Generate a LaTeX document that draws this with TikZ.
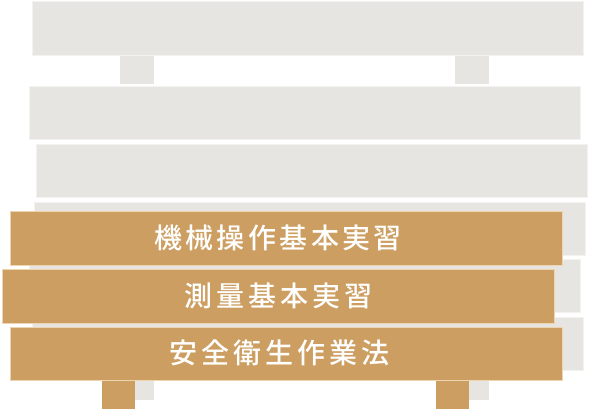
\documentclass[tikz,border=0pt]{standalone}
\usepackage{xcolor}
\usepackage{fontspec}
\usepackage{tikz}
\newfontfamily\jpfont{Noto Sans CJK JP Medium}[LetterSpace=14]
\definecolor{Stone}{HTML}{E6E5E1}
\definecolor{StoneEdge}{HTML}{F3F2EF}
\definecolor{Ochre}{HTML}{CD9E62}
\definecolor{OchreEdge}{HTML}{EDD5B2}
\tikzset{%
  % ------------------------------
  % grey boards, the empty shelves
  % ------------------------------
  greyBoard/.style={rectangle, draw=StoneEdge, fill=Stone, line width=.8pt, inner sep=0pt, minimum width=551pt, minimum height=53.5pt},
  greyLeg/.style={rectangle, fill=Stone, inner sep=0pt, minimum width=34pt, minimum height=29pt},
  % -----------------------------
  % gold boards, the three courses
  % -----------------------------
  goldBoard/.style={rectangle, draw=OchreEdge, fill=Ochre, line width=.8pt, inner sep=0pt, minimum width=552pt, minimum height=54pt},
  goldLeg/.style={rectangle, fill=Ochre, inner sep=0pt, minimum width=33pt, minimum height=30pt},
  boardLabel/.style={inner sep=0pt, text=white, font=\jpfont\fontsize{28}{30}\selectfont}}

\begin{document}
\begin{tikzpicture}[x=1pt,y=-1pt]
    \useasboundingbox (0,0) rectangle (590,408);

    \node[greyLeg] (legTopL) at (137,69.5) {};
    \node[greyLeg] (legTopR) at (471.5,69.5) {};
    \node[greyBoard] (shelfTop) at (307.5,28.5) {};
    \node[greyBoard] (shelfB) at (304.5,112.75) {};
    \node[greyBoard] (shelfC) at (312,170.75) {};

    \node[greyLeg] (legBotL) at (137,385.5) {};
    \node[greyLeg] (legBotR) at (471.5,385.5) {};
    \node[greyBoard] (shelfD) at (309.5,229) {};
    \node[greyBoard] (shelfE) at (304.5,286) {};
    \node[greyBoard] (shelfF) at (307.5,344) {};

    \node[goldLeg] (legL) at (118.5,395) {};
    \node[goldLeg] (legR) at (452.5,395) {};
    \node[goldBoard] (kikai) at (286,238) {};
    \node[goldBoard] (sokuryo) at (278,296) {};
    \node[goldBoard, minimum height=53pt] (anzen) at (286,353.5) {};

    \node[boardLabel] (kikaiText) at (278,237.5) {\addfontfeature{LetterSpace=12}機械操作基本実習};
    \node[boardLabel] (sokuryoText) at (278.5,295.5) {測量基本実習};
    \node[boardLabel] (anzenText) at (279.5,353) {安全衛生作業法};

    \end{tikzpicture}
\end{document}
